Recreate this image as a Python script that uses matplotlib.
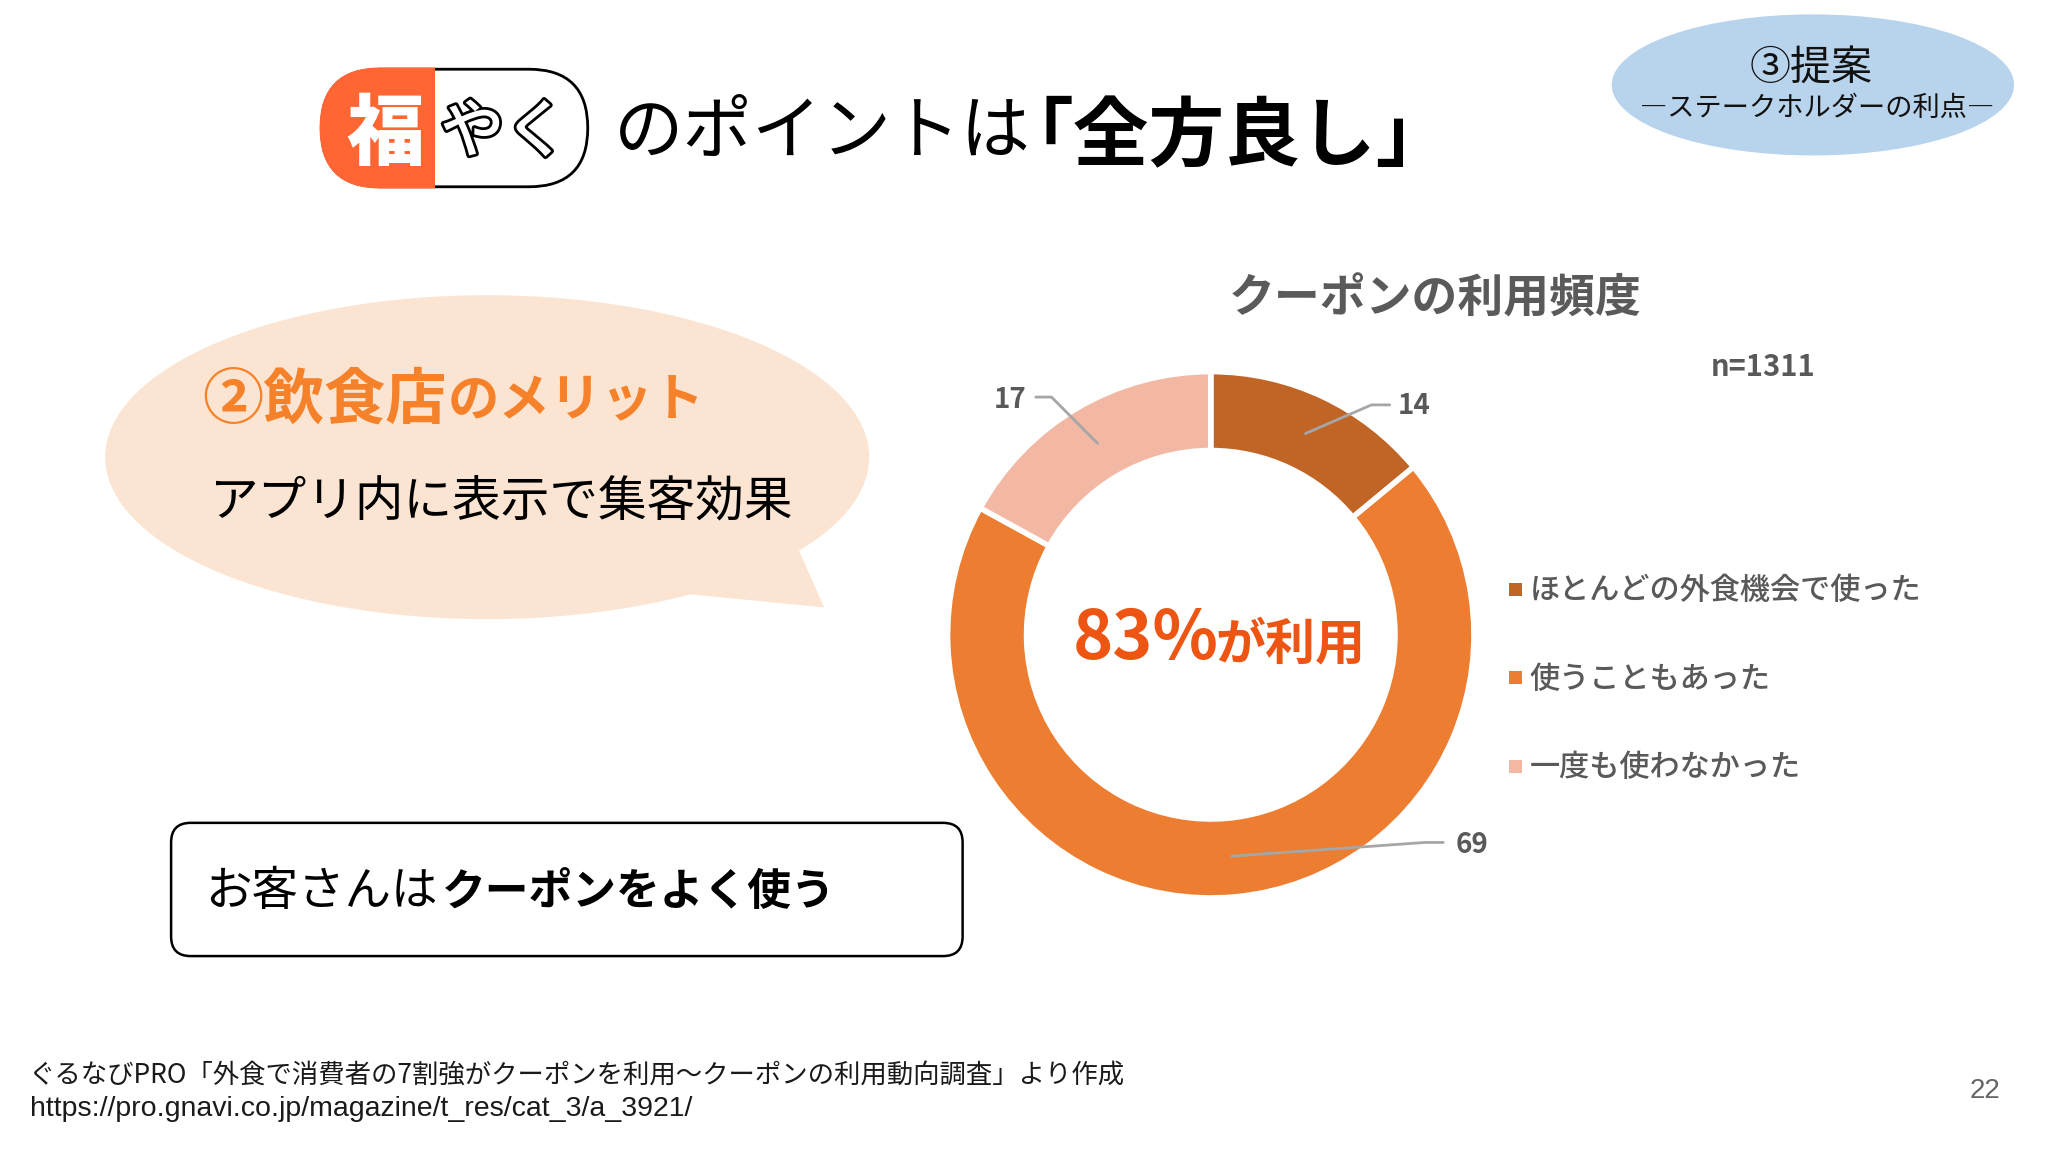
#!/usr/bin/env python3
import numpy as np
import matplotlib
matplotlib.use('Agg')
import matplotlib.pyplot as plt
import matplotlib.patheffects as pe
from matplotlib.patches import Ellipse, Polygon, FancyBboxPatch, Rectangle
plt.rcParams['font.family'] = ['Noto Sans CJK JP', 'DejaVu Sans']

labels = ['ほとんどの外食機会で使った', '使うこともあった', '一度も使わなかった']
values = [14, 69, 17]
colors = ['#C06526', '#ED7D31', '#F3B8A4']
chart_title = 'クーポンの利用頻度'
n_label = 'n=1311'
center_big = '83%'
center_small = 'が利用'

S = 2048 / 1568

def X(x):
    return x * S

def Y(y):
    return 1152 - y * S

fig = plt.figure(figsize=(20.48, 11.52), dpi=100, facecolor='white')
ax = fig.add_axes([0, 0, 1, 1])

# donut
R = 201.5 * S
cx, cy = X(927), Y(486)
wedges, _ = ax.pie(values, colors=colors, startangle=90, counterclock=False,
                   center=(cx, cy), radius=R, frame=True,
                   wedgeprops=dict(width=0.30 * R, edgecolor='white', linewidth=4))
ax.set_xlim(0, 2048)
ax.set_ylim(0, 1152)
ax.set_aspect('equal')
ax.axis('off')

# leader lines start in the ring at the middle of each wedge
label_at = [(1083, 310, 1064, 310, 'left'), (1127, 646, 1105, 645, 'left'), (773, 305, 793, 304, 'right')]
for w, v, (tx, ty, ex, ey, ha) in zip(wedges, values, label_at):
    a = np.deg2rad((w.theta1 + w.theta2) / 2)
    sx, sy = cx + 0.845 * R * np.cos(a), cy + 0.845 * R * np.sin(a)
    if ha == 'left':
        xs = [sx, X(ex - 14), X(ex)]
    else:
        xs = [sx, X(ex + 12), X(ex)]
    ax.plot(xs, [sy, Y(ey), Y(ey)], color='#A6A6A6', lw=2, solid_capstyle='round')
    ax.text(X(tx), Y(ty + 1), str(v), fontsize=20, color='#595959', ha='center', va='center', weight='bold')

ax.text(X(1099), Y(229), chart_title, fontsize=33, color='#5A5A5A', ha='center', va='center', weight='bold')
ax.text(X(1350), Y(281), n_label, fontsize=21, color='#595959', ha='center', va='center', weight='bold')

# legend
for c, lab, y in zip(colors, labels, [451, 519, 587]):
    ax.add_patch(Rectangle((X(1155), Y(y + 5)), 10 * S, 10 * S, color=c, lw=0))
    ax.text(X(1171), Y(y + 1), lab, fontsize=21.7, color='#595959', ha='left', va='center', weight='medium')

ax.text(X(821), Y(490), center_big, fontsize=49, color='#EE5512', ha='left', va='center', weight='bold')
ax.text(X(931), Y(494), center_small, fontsize=36, color='#EE5512', ha='left', va='center', weight='bold')

# logo pill
pill_box = dict(boxstyle='round,pad=0,rounding_size=%f' % (45 * S))
ax.add_patch(FancyBboxPatch((X(246), Y(143)), 204 * S, 90 * S, fc='white', ec='black', lw=2, **pill_box))
orange = FancyBboxPatch((X(246), Y(143)), 204 * S, 90 * S, fc='#FF6633', ec='#FF6633', lw=2.5, **pill_box)
ax.add_patch(orange)
orange.set_clip_path(Rectangle((X(240), Y(150)), 93 * S, 105 * S, transform=ax.transData))
ax.text(X(295), Y(104), '福', fontsize=56, color='white', ha='center', va='center', weight='black')
ax.text(X(386), Y(102), 'やく', fontsize=46, color='white', ha='center', va='center', weight='medium',
        path_effects=[pe.withStroke(linewidth=4, foreground='black')])

# heading
ax.text(X(470), Y(102), 'のポイントは', fontsize=50, color='black', ha='left', va='center')
ax.text(X(764), Y(105), '「全方良し」', fontsize=54.5, color='black', ha='left', va='center', weight='bold')

# top right ellipse
ax.add_patch(Ellipse((X(1388), Y(65)), 308 * S, 108 * S, fc='#B8D3EC', ec='none'))
ax.text(X(1387), Y(52), '③提案', fontsize=29.5, color='#111111', ha='center', va='center')
ax.text(X(1391), Y(83), '―ステークホルダーの利点―', fontsize=19.6, color='#111111', ha='center', va='center')

# speech bubble
bubble = '#FBE5D2'
ax.add_patch(Ellipse((X(373), Y(350)), 585 * S, 248 * S, fc=bubble, ec='none'))
ax.add_patch(Polygon([(X(611), Y(420)), (X(631), Y(465)), (X(528), Y(455)), (X(480), Y(400))], fc=bubble, ec='none'))
ax.text(X(155), Y(307), '②飲食店', fontsize=44, color='#F5822A', ha='left', va='center', weight='bold')
ax.text(X(343), Y(307), 'のメリット', fontsize=37, color='#F5822A', ha='left', va='center', weight='bold')
ax.text(X(161), Y(384), 'アプリ内に表示で集客効果', fontsize=35, color='black', ha='left', va='center')

# lower box
ax.add_patch(FancyBboxPatch((X(131), Y(732)), 606 * S, 102 * S, boxstyle='round,pad=0,rounding_size=%f' % (15 * S),
                            fc='white', ec='black', lw=1.8))
ax.text(X(157), Y(683), 'お客さんは', fontsize=33.5, color='black', ha='left', va='center')
ax.text(X(338), Y(683), 'クーポンをよく使う', fontsize=31.5, color='black', ha='left', va='center', weight='bold')

# source
ax.text(X(22), Y(823), 'ぐるなびPRO「外食で消費者の7割強がクーポンを利用～クーポンの利用動向調査」より作成',
        fontsize=19, color='#1A1A1A', ha='left', va='center')
ax.text(X(23), Y(849), 'https://pro.gnavi.co.jp/magazine/t_res/cat_3/a_3921/',
        fontsize=20.5, color='#1A1A1A', ha='left', va='center', family='Liberation Sans')
ax.text(X(1520), Y(835), '22', fontsize=20, color='#666666', ha='center', va='center', family='Liberation Sans')

fig.savefig('out.png', dpi=100, facecolor='white')
